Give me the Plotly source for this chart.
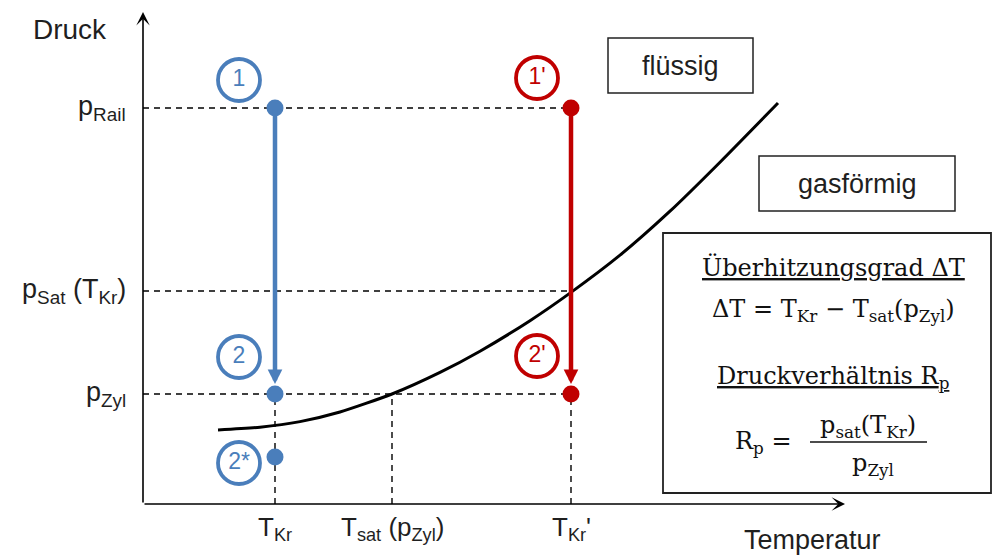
import plotly.graph_objects as go

# ---------------- data (schematic units: temperature / pressure) ----------------
T_Kr = 132          # T_Kr
T_sat_pZyl = 249    # T_sat(p_Zyl)
T_Kr2 = 428         # T_Kr'
p_Rail = 396
p_Sat = 213         # p_sat(T_Kr)
p_Zyl = 110
p_2star = 47

curve_T = [75, 117, 157, 197, 249, 297, 337, 387, 428, 477, 527, 577, 635]
curve_p = [74, 76.8, 82.4, 92, 110, 131.6, 152.8, 183.3, 211.6, 248.8, 292.8, 341.8, 401]

blue_T = [T_Kr, T_Kr, T_Kr]
blue_p = [p_Rail, p_Zyl, p_2star]
blue_labels = ["1", "2", "2*"]
red_T = [T_Kr2, T_Kr2]
red_p = [p_Rail, p_Zyl]
red_labels = ["1'", "2'"]

y_ticklabels = ["p<sub>Rail</sub>", "p<sub>Sat</sub> (T<sub>Kr</sub>)", "p<sub>Zyl</sub>"]
y_tickvals = [p_Rail, p_Sat, p_Zyl]
x_ticklabels = ["T<sub>Kr</sub>", "T<sub>sat</sub> (p<sub>Zyl</sub>)", "T<sub>Kr</sub>'"]
x_tickvals = [T_Kr, T_sat_pZyl, T_Kr2]

BLUE = "#4a7ebb"
RED = "#c00000"
TXT = "#1f1f1f"
SANS = "Liberation Sans, Arial, sans-serif"
SERIF = "DejaVu Serif, serif"

X_RANGE = [-143, 850]
Y_RANGE = [-52, 504]

fig = go.Figure()

dash = dict(color="black", width=1.4, dash="6px,5px")
# horizontal guide lines
for p in y_tickvals:
    fig.add_trace(go.Scatter(x=[0, T_Kr2], y=[p, p], mode="lines", line=dash,
                             hoverinfo="skip", showlegend=False))
# vertical guide lines
for t in x_tickvals:
    fig.add_trace(go.Scatter(x=[t, t], y=[0, p_Zyl], mode="lines", line=dash,
                             hoverinfo="skip", showlegend=False))

# saturation curve
fig.add_trace(go.Scatter(x=curve_T, y=curve_p, mode="lines",
                         line=dict(color="black", width=3, shape="spline", smoothing=0.6),
                         hoverinfo="skip", showlegend=False))

# process arrows
for t, col in [(T_Kr, BLUE), (T_Kr2, RED)]:
    fig.add_annotation(x=t, y=p_Zyl + 10, ax=t, ay=p_Rail, xref="x", yref="y",
                       axref="x", ayref="y", showarrow=True, arrowhead=2,
                       arrowsize=0.65, arrowwidth=4.5, arrowcolor=col, text="")

# state points
fig.add_trace(go.Scatter(x=blue_T, y=blue_p, mode="markers",
                         marker=dict(color=BLUE, size=17), showlegend=False, hoverinfo="skip"))
fig.add_trace(go.Scatter(x=red_T, y=red_p, mode="markers",
                         marker=dict(color=RED, size=17), showlegend=False, hoverinfo="skip"))

# numbered circles
blue_dy = [28, 37, -6]
red_dy = [30, 38]
fig.add_trace(go.Scatter(x=[t - 36 for t in blue_T], y=[p + d for p, d in zip(blue_p, blue_dy)],
                         mode="markers+text", text=blue_labels, textposition="middle center",
                         textfont=dict(family=SANS, size=23, color=BLUE),
                         marker=dict(color="white", size=42, line=dict(color=BLUE, width=3.8)),
                         showlegend=False, hoverinfo="skip"))
fig.add_trace(go.Scatter(x=[t - 34 for t in red_T], y=[p + d for p, d in zip(red_p, red_dy)],
                         mode="markers+text", text=red_labels, textposition="middle center",
                         textfont=dict(family=SANS, size=23, color=RED),
                         marker=dict(color="white", size=42, line=dict(color=RED, width=3.8)),
                         showlegend=False, hoverinfo="skip"))

# axes with arrows
fig.add_annotation(x=0, y=492, ax=0, ay=0, xref="x", yref="y", axref="x", ayref="y",
                   showarrow=True, arrowhead=3, arrowsize=1.4, arrowwidth=1.6,
                   arrowcolor="black", text="")
fig.add_annotation(x=702, y=0, ax=0, ay=0, xref="x", yref="y", axref="x", ayref="y",
                   showarrow=True, arrowhead=3, arrowsize=1.4, arrowwidth=1.6,
                   arrowcolor="black", text="")

# axis titles
fig.add_annotation(x=-73, y=475, text="Druck", showarrow=False,
                   font=dict(family=SANS, size=28, color=TXT))
fig.add_annotation(x=669, y=-36, text="Temperatur", showarrow=False,
                   font=dict(family=SANS, size=27, color=TXT))

# tick labels
for lab, v in zip(y_ticklabels, y_tickvals):
    fig.add_annotation(x=-15, y=v, text=lab, showarrow=False, xanchor="right",
                       font=dict(family=SANS, size=27, color=TXT))
for lab, v in zip(x_ticklabels, x_tickvals):
    fig.add_annotation(x=v, y=-24, text=lab, showarrow=False,
                       font=dict(family=SANS, size=26, color=TXT))

# phase boxes
fig.add_shape(type="rect", x0=465, x1=610, y0=411, y1=466, line=dict(color="#222", width=1.5))
fig.add_annotation(x=537.5, y=438, text="flüssig", showarrow=False,
                   font=dict(family=SANS, size=27, color=TXT))
fig.add_shape(type="rect", x0=616, x1=812, y0=293, y1=348, line=dict(color="#222", width=1.5))
fig.add_annotation(x=714, y=320, text="gasförmig", showarrow=False,
                   font=dict(family=SANS, size=27, color=TXT))

# formula box
fig.add_shape(type="rect", x0=520, x1=848, y0=11, y1=271, line=dict(color="#222", width=1.8))
ff = dict(family=SERIF, size=24, color="#111")
fig.add_annotation(x=690, y=237, text="<u>Überhitzungsgrad ΔT</u>", showarrow=False, font=ff)
fig.add_annotation(x=690, y=194, text="ΔT = T<sub>Kr</sub> − T<sub>sat</sub>(p<sub>Zyl</sub>)",
                   showarrow=False, font=ff)
fig.add_annotation(x=690, y=127, text="<u>Druckverhältnis R<sub>p</sub></u>", showarrow=False, font=ff)
fig.add_annotation(x=620, y=62, text="R<sub>p</sub> =", showarrow=False, font=ff)
fig.add_annotation(x=725, y=78, text="p<sub>sat</sub>(T<sub>Kr</sub>)", showarrow=False, font=ff)
fig.add_shape(type="line", x0=667, x1=784, y0=62, y1=62, line=dict(color="#111", width=1.5))
fig.add_annotation(x=730, y=40, text="p<sub>Zyl</sub>", showarrow=False, font=ff)

fig.update_layout(
    width=993, height=556, margin=dict(l=0, r=0, t=0, b=0),
    paper_bgcolor="white", plot_bgcolor="white",
    xaxis=dict(range=X_RANGE, visible=False, fixedrange=True),
    yaxis=dict(range=Y_RANGE, visible=False, fixedrange=True),
    showlegend=False,
)
fig.write_html("out.html")
